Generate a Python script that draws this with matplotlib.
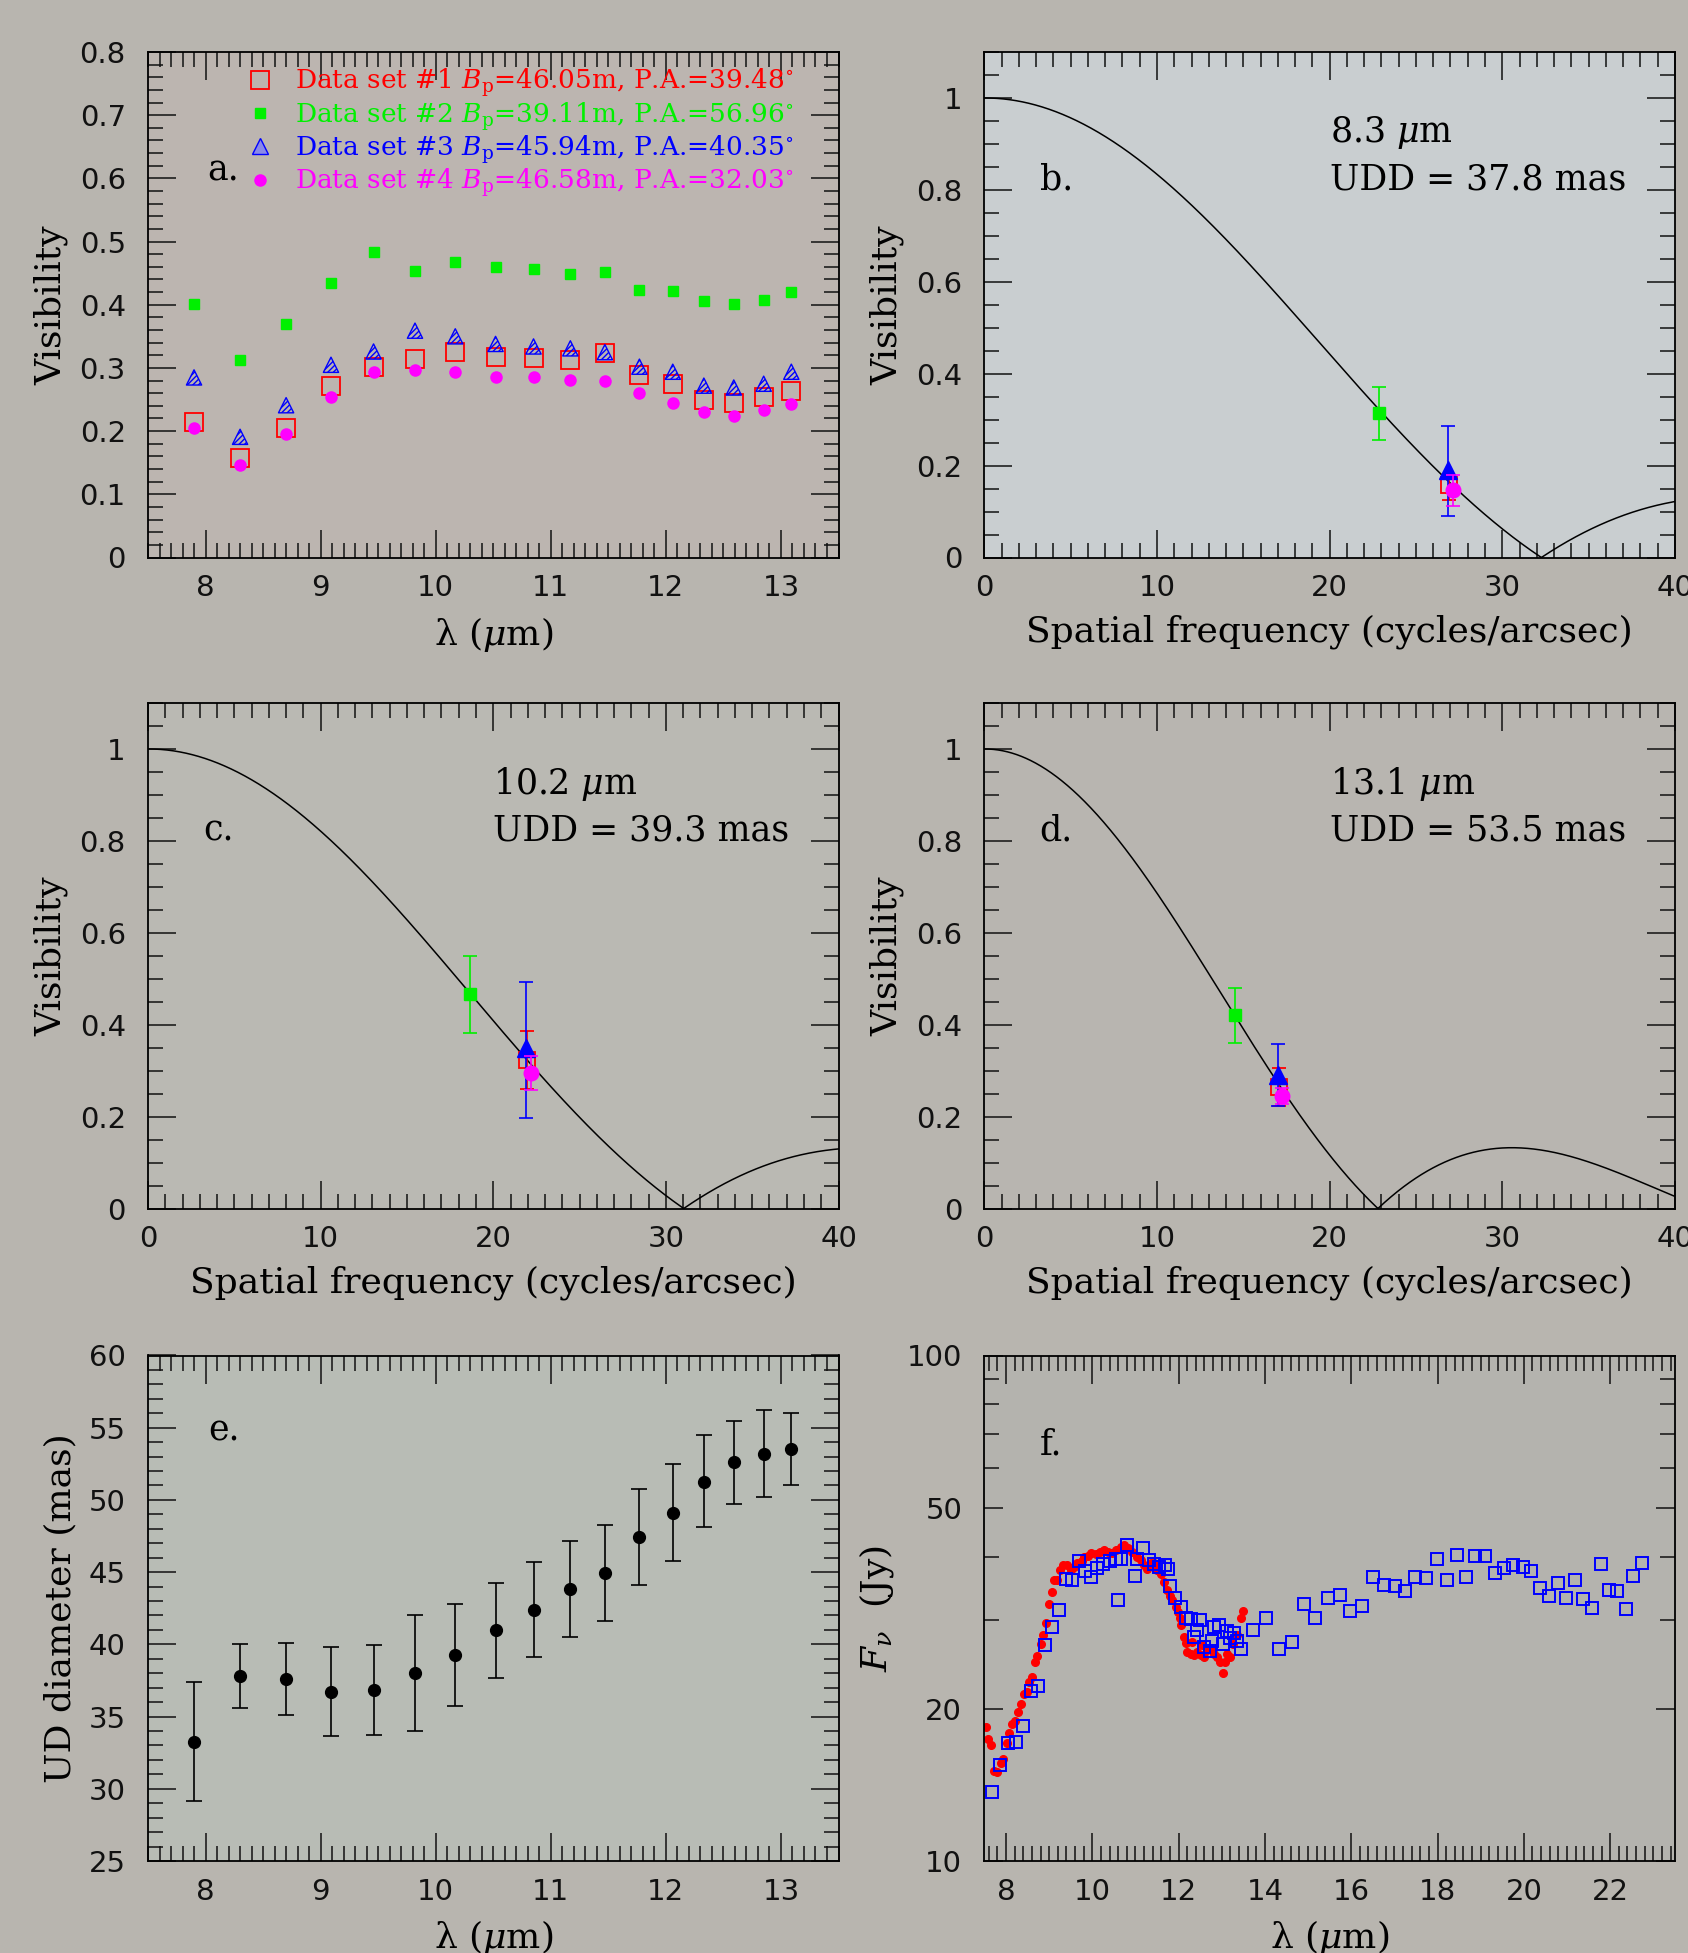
import numpy as np
import matplotlib
matplotlib.use("Agg")
import matplotlib.pyplot as plt
from matplotlib.ticker import MultipleLocator, FixedLocator, FuncFormatter, NullFormatter
from matplotlib.lines import Line2D

plt.rcParams['mathtext.fontset'] = 'dejavuserif'
plt.rcParams['hatch.linewidth'] = 1.0

# ---- panel a / e : visibility and UD diameter vs wavelength
lam = [7.90, 8.30, 8.70, 9.09, 9.46, 9.82, 10.17, 10.52, 10.85, 11.17,
       11.47, 11.77, 12.06, 12.33, 12.59, 12.85, 13.09]
vis_set1 = [0.214, 0.157, 0.205, 0.271, 0.302, 0.314, 0.325, 0.317, 0.316, 0.313,
            0.324, 0.289, 0.275, 0.250, 0.245, 0.254, 0.264]
vis_set2 = [0.401, 0.313, 0.370, 0.434, 0.483, 0.454, 0.467, 0.460, 0.456, 0.448,
            0.452, 0.424, 0.421, 0.406, 0.401, 0.408, 0.420]
vis_set3 = [0.285, 0.191, 0.241, 0.305, 0.326, 0.359, 0.350, 0.338, 0.334, 0.331,
            0.325, 0.302, 0.294, 0.272, 0.269, 0.275, 0.294]
vis_set4 = [0.205, 0.146, 0.195, 0.254, 0.293, 0.296, 0.294, 0.286, 0.285, 0.281,
            0.280, 0.260, 0.245, 0.230, 0.224, 0.234, 0.243]
set_labels = [r'Data set #1 $B_{\rm p}$=46.05m, P.A.=39.48$^{\circ}$',
              r'Data set #2 $B_{\rm p}$=39.11m, P.A.=56.96$^{\circ}$',
              r'Data set #3 $B_{\rm p}$=45.94m, P.A.=40.35$^{\circ}$',
              r'Data set #4 $B_{\rm p}$=46.58m, P.A.=32.03$^{\circ}$']

udd = [33.27, 37.82, 37.60, 36.73, 36.84, 38.02, 39.25, 40.98, 42.40, 43.83,
       44.94, 47.40, 49.11, 51.26, 52.60, 53.21, 53.52]
udd_hi = [37.37, 40.03, 40.11, 39.83, 39.94, 42.04, 42.82, 44.27, 45.67, 47.15,
          48.24, 50.75, 52.49, 54.47, 55.47, 56.26, 56.01]
udd_lo = [29.16, 35.61, 35.08, 33.63, 33.72, 33.97, 35.70, 37.65, 39.11, 40.50,
          41.62, 44.08, 45.75, 48.10, 49.75, 50.22, 51.01]

# ---- panels b, c, d : visibility vs spatial frequency (order: set 1, 2, 3, 4)
fit_lam = ['8.3', '10.2', '13.1']
fit_udd = [37.8, 39.3, 53.5]   # mas
sf = [[26.92, 22.83, 26.85, 27.17],
      [21.97, 18.67, 21.91, 22.20],
      [17.08, 14.50, 17.03, 17.26]]
sv = [[0.158, 0.314, 0.190, 0.146],
      [0.324, 0.466, 0.350, 0.295],
      [0.264, 0.420, 0.291, 0.244]]
sv_lo = [[0.126, 0.256, 0.090, 0.113],
         [0.261, 0.381, 0.198, 0.257],
         [0.224, 0.360, 0.224, 0.228]]
sv_hi = [[0.180, 0.371, 0.286, 0.180],
         [0.387, 0.550, 0.492, 0.331],
         [0.305, 0.480, 0.357, 0.262]]

# ---- panel f : spectra
f_red_lam = [7.53, 7.58, 7.66, 7.72, 7.80, 7.88, 7.94, 8.02, 8.07, 8.15, 8.20, 8.28, 8.34,
             8.42, 8.48, 8.54, 8.61, 8.67, 8.73, 8.80, 8.86, 8.93, 9.00, 9.06, 9.11, 9.19,
             9.25, 9.33, 9.41, 9.50, 9.58, 9.65, 9.75, 9.81, 9.90, 9.98, 10.08, 10.18, 10.27,
             10.36, 10.46, 10.56, 10.66, 10.73, 10.83, 10.93, 11.03, 11.12, 11.20, 11.27,
             11.35, 11.43, 11.51, 11.60, 11.66, 11.74, 11.80, 11.85, 11.93, 11.98, 12.03,
             12.06, 12.12, 12.16, 12.20, 12.28, 12.32, 12.35, 12.43, 12.51, 12.55, 12.59,
             12.66, 12.74, 12.82, 12.90, 12.96, 13.03, 13.07, 13.13, 13.20, 13.27, 13.36,
             13.45, 13.49]
f_red_flux = [18.4, 17.4, 17.0, 15.1, 15.0, 15.6, 15.9, 17.1, 17.9, 18.7, 18.9, 19.7, 20.4,
              21.4, 21.6, 22.6, 23.1, 24.7, 25.4, 26.9, 28.0, 29.6, 32.3, 34.0, 35.9, 36.0,
              37.6, 38.5, 38.5, 37.7, 38.2, 38.8, 39.2, 39.9, 40.2, 40.7, 40.4, 40.9, 41.2,
              40.9, 40.7, 41.2, 41.8, 42.1, 41.6, 40.9, 39.9, 39.4, 38.5, 37.8,
              38.9, 38.8, 37.6, 37.0, 35.6, 34.3, 33.5, 32.8, 31.8, 31.1, 30.3,
              29.3, 27.7, 27.0, 25.9, 25.7, 27.1, 25.5, 25.9, 25.5, 26.7, 25.3,
              26.1, 26.3, 25.7, 25.3, 24.7, 23.5, 24.8, 25.7, 25.3, 26.9, 28.0,
              30.3, 31.3]
f_blue_lam = [7.68, 7.86, 8.05, 8.24, 8.40, 8.57, 8.74, 8.90, 9.07, 9.23, 9.38, 9.54, 9.69,
              9.83, 9.98, 10.12, 10.25, 10.41, 10.54, 10.60, 10.67, 10.80, 10.99, 11.04,
              11.18, 11.31, 11.43, 11.54, 11.68, 11.75, 11.80, 11.92, 12.05, 12.16, 12.28,
              12.36, 12.43, 12.50, 12.59, 12.72, 12.78, 12.81, 12.93, 13.03, 13.13, 13.19,
              13.28, 13.36, 13.45, 13.72, 14.03, 14.33, 14.62, 14.90, 15.17, 15.46, 15.73,
              15.98, 16.25, 16.50, 16.77, 17.01, 17.25, 17.48, 17.73, 17.98, 18.21, 18.44,
              18.66, 18.87, 19.10, 19.32, 19.54, 19.76, 19.97, 20.17, 20.38, 20.58, 20.79,
              20.98, 21.18, 21.38, 21.58, 21.78, 21.97, 22.16, 22.36, 22.53, 22.74]
f_blue_flux = [13.7, 15.5, 17.1, 17.2, 18.5, 21.7, 22.2, 26.8, 29.0, 31.4, 36.2, 35.9, 39.2,
               37.5, 36.4, 38.0, 38.6, 39.2, 39.5, 32.9, 39.5, 42.1, 36.6, 39.5,
               41.7, 39.4, 38.6, 38.2, 38.5, 37.8, 35.0, 33.2, 31.8, 30.3, 30.1,
               27.7, 28.7, 30.0, 26.5, 26.0, 27.3, 29.1, 29.3, 26.9, 28.5, 27.6,
               28.2, 27.3, 26.3, 28.7, 30.3, 26.3, 27.1, 32.2, 30.3, 33.2, 33.6,
               31.2, 31.9, 36.5, 35.2, 35.0, 34.2, 36.5, 36.3, 39.6, 36.0, 40.3,
               36.4, 40.1, 40.1, 37.2, 37.9, 38.5, 38.2, 37.5, 34.6, 33.4, 35.5,
               33.2, 36.0, 33.0, 31.6, 38.6, 34.3, 34.2, 31.5, 36.6, 38.9]

RED, GREEN, BLUE, MAG = '#ff0000', '#00f000', '#0000ff', '#ff00ff'
SERIF = 'DejaVu Serif'
LBL = 26

fig = plt.figure(figsize=(16.88, 19.53), dpi=100, facecolor='#b8b5af')
W, H = 1688.0, 1953.0


def make_ax(left, top, bg):
    ax = fig.add_axes([left / W, 1 - (top + 505.5) / H, 690.5 / W, 505.5 / H])
    ax.set_facecolor(bg)
    for s in ax.spines.values():
        s.set_linewidth(1.3)
    ax.tick_params(which='both', direction='in', top=True, right=True, width=1.1,
                   labelsize=21, colors='#111111')
    ax.tick_params(which='major', length=20)
    ax.tick_params(which='minor', length=11)
    ax.tick_params(axis='x', which='both', pad=12)
    ax.tick_params(axis='y', which='both', pad=16)
    return ax


fmt = FuncFormatter(lambda v, p: '%g' % round(v, 6))

# ---------------- panel a
ax = make_ax(148, 52, '#bcb5b0')
ax.plot(lam, vis_set1, 's', ms=13, mfc='none', mec=RED, mew=1.3, ls='none')
ax.plot(lam, vis_set2, 's', ms=6.5, mfc=GREEN, mec=GREEN, ls='none')
ax.scatter(lam, vis_set3, s=120, marker='^', facecolors='none', edgecolors=BLUE,
           hatch='//////', linewidths=1.0, zorder=3)
ax.plot(lam, vis_set4, 'o', ms=8, mfc=MAG, mec=MAG, ls='none', zorder=4)
handles = [Line2D([], [], marker='s', ms=13, mfc='none', mec=RED, mew=1.3, ls='none'),
           Line2D([], [], marker='s', ms=6.5, mfc=GREEN, mec=GREEN, ls='none'),
           Line2D([], [], marker='^', ms=11, mfc='#8a8ae8', mec=BLUE, ls='none'),
           Line2D([], [], marker='o', ms=8, mfc=MAG, mec=MAG, ls='none')]
ax.legend(handles, set_labels, loc='upper left', bbox_to_anchor=(0.115, 1.01),
          frameon=False, labelcolor=[RED, GREEN, BLUE, MAG],
          prop={'family': SERIF, 'size': 19}, handlelength=1.0, handletextpad=0.8,
          labelspacing=0.02, borderpad=0.25)
ax.text(0.086, 0.766, 'a.', transform=ax.transAxes, fontsize=25, family=SERIF, va='center')
ax.set_xlim(7.5, 13.5)
ax.set_ylim(0, 0.8)
ax.xaxis.set_major_locator(MultipleLocator(1))
ax.xaxis.set_minor_locator(MultipleLocator(0.1))
ax.yaxis.set_major_locator(MultipleLocator(0.1))
ax.yaxis.set_minor_locator(MultipleLocator(0.02))
ax.yaxis.set_major_formatter(fmt)
ax.set_xlabel(r'λ ($\mu$m)', fontsize=LBL, family=SERIF, labelpad=9)
ax.set_ylabel('Visibility', fontsize=LBL, family=SERIF, labelpad=8)

# ---------------- panels b, c, d
theta = np.linspace(0, np.pi, 801)


def ud_vis(freq, diam_mas):
    # uniform-disk visibility |2 J1(x)/x|, J1 from its integral form
    x = np.pi * (diam_mas / 1000.0) * freq
    j1 = np.trapezoid(np.cos(theta[None, :] - x[:, None] * np.sin(theta[None, :])), theta, axis=1) / np.pi
    out = np.ones_like(x)
    nz = x > 0
    out[nz] = np.abs(2 * j1[nz] / x[nz])
    return out


spots = [(984.4, 52, '#c9ced0', 'b.'), (148, 703, '#bab9b3', 'c.'), (984.4, 703, '#b8b5b0', 'd.')]
for k, (left, top, bg, tag) in enumerate(spots):
    ax = make_ax(left, top, bg)
    fq = np.linspace(0, 40, 1200)
    ax.plot(fq, ud_vis(fq, fit_udd[k]), color='black', lw=1.1)
    styles = [dict(marker='s', ms=12, mfc='none', mec=RED, mew=1.3, color=RED),
              dict(marker='s', ms=8.5, mfc=GREEN, mec=GREEN, color=GREEN),
              dict(marker='^', ms=13, mfc=BLUE, mec=BLUE, color=BLUE),
              dict(marker='o', ms=10.5, mfc=MAG, mec=MAG, color=MAG)]
    for i in [0, 1, 2, 3]:
        y = sv[k][i]
        yerr = [[y - sv_lo[k][i]], [sv_hi[k][i] - y]]
        ax.errorbar([sf[k][i]], [y], yerr=yerr, ls='none', elinewidth=1.2, capsize=5,
                    capthick=1.2, zorder=3 + i, **styles[i])
    ax.text(0.08, 0.748, tag, transform=ax.transAxes, fontsize=25, family=SERIF, va='center')
    ax.text(0.50, 0.84, fit_lam[k] + r' $\mu$m', transform=ax.transAxes, fontsize=25,
            family=SERIF, va='center')
    ax.text(0.50, 0.748, 'UDD = %.1f mas' % fit_udd[k], transform=ax.transAxes, fontsize=25,
            family=SERIF, va='center')
    ax.set_xlim(0, 40)
    ax.set_ylim(0, 1.1)
    ax.xaxis.set_major_locator(MultipleLocator(10))
    ax.xaxis.set_minor_locator(MultipleLocator(1))
    ax.yaxis.set_major_locator(MultipleLocator(0.2))
    ax.yaxis.set_minor_locator(MultipleLocator(0.05))
    ax.yaxis.set_major_formatter(fmt)
    ax.xaxis.set_major_formatter(fmt)
    ax.set_xlabel('Spatial frequency (cycles/arcsec)', fontsize=LBL, family=SERIF, labelpad=9)
    ax.set_ylabel('Visibility', fontsize=LBL, family=SERIF, labelpad=8)

# ---------------- panel e
ax = make_ax(148, 1355.5, '#b8bcb5')
e_err = [np.subtract(udd, udd_lo), np.subtract(udd_hi, udd)]
ax.errorbar(lam, udd, yerr=e_err, fmt='o', ms=8.5, color='black', elinewidth=1.2,
            capsize=6, capthick=1.2)
ax.text(0.087, 0.852, 'e.', transform=ax.transAxes, fontsize=25, family=SERIF, va='center')
ax.set_xlim(7.5, 13.5)
ax.set_ylim(25, 60)
ax.xaxis.set_major_locator(MultipleLocator(1))
ax.xaxis.set_minor_locator(MultipleLocator(0.1))
ax.yaxis.set_major_locator(MultipleLocator(5))
ax.yaxis.set_minor_locator(MultipleLocator(1))
ax.set_xlabel(r'λ ($\mu$m)', fontsize=LBL, family=SERIF, labelpad=9)
ax.set_ylabel('UD diameter (mas)', fontsize=LBL, family=SERIF, labelpad=8)

# ---------------- panel f
ax = make_ax(984.4, 1355.5, '#b4b3ae')
ax.plot(f_red_lam, f_red_flux, 'o', ms=5.5, color=RED, ls='none')
ax.plot(f_blue_lam, f_blue_flux, 's', ms=8.5, mfc='none', mec=BLUE, mew=1.4, ls='none')
ax.set_yscale('log')
ax.set_xlim(7.5, 23.5)
ax.set_ylim(10, 100)
ax.xaxis.set_major_locator(MultipleLocator(2))
ax.xaxis.set_minor_locator(MultipleLocator(0.2))
ax.yaxis.set_major_locator(FixedLocator([10, 20, 50, 100]))
ax.yaxis.set_minor_locator(FixedLocator([30, 40, 60, 70, 80, 90]))
ax.yaxis.set_major_formatter(FuncFormatter(lambda v, p: '%d' % round(v)))
ax.yaxis.set_minor_formatter(NullFormatter())
ax.tick_params(axis='y', which='major', length=14)
ax.text(0.08, 0.823, 'f.', transform=ax.transAxes, fontsize=25, family=SERIF, va='center')
ax.set_xlabel(r'λ ($\mu$m)', fontsize=LBL, family=SERIF, labelpad=9)
ax.set_ylabel(r'$F_\nu$  (Jy)', fontsize=LBL, family=SERIF, labelpad=8)

fig.savefig('out.png', dpi=100, facecolor=fig.get_facecolor())
